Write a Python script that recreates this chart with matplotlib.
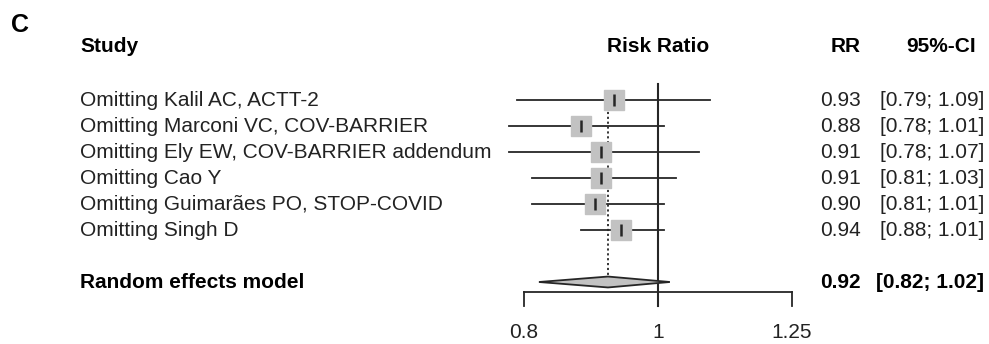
import matplotlib
matplotlib.use("Agg")
import matplotlib.pyplot as plt
import matplotlib.transforms as mtransforms
import numpy as np

plt.rcParams['font.family'] = ['Liberation Sans', 'DejaVu Sans']

# data
studies = ["Omitting Kalil AC, ACTT-2",
           "Omitting Marconi VC, COV-BARRIER",
           "Omitting Ely EW, COV-BARRIER addendum",
           "Omitting Cao Y",
           "Omitting Guimarães PO, STOP-COVID",
           "Omitting Singh D"]
rr = [0.93, 0.88, 0.91, 0.91, 0.90, 0.94]
lower = [0.79, 0.78, 0.78, 0.81, 0.81, 0.88]
upper = [1.09, 1.01, 1.07, 1.03, 1.01, 1.01]
pooled_label = "Random effects model"
pooled = 0.92
pooled_lo = 0.82
pooled_hi = 1.02
ticks = [0.8, 1, 1.25]
tick_labels = ["0.8", "1", "1.25"]

W, H = 989, 344
fig = plt.figure(figsize=(W / 100, H / 100), dpi=100)
ax = fig.add_axes([0, 0, 1, 1])
ax.set_xscale('log')
# pixel mapping: x=1 at 658px, 600 px per ln unit; row k at 100+26k px
ax.set_xlim(np.exp(-658 / 600), np.exp((W - 658) / 600))
ax.set_ylim((H - 100) / 26, -100 / 26)
ax.axis('off')

tr = mtransforms.blended_transform_factory(fig.transFigure, ax.transData)
def px(x):
    return x / W

dark = '#262626'
rows = np.arange(len(studies))
pool_row = 7

# reference lines
ax.plot([1, 1], [-0.6, 7.92], color=dark, lw=1.5)
ax.plot([pooled, pooled], [0.25, pool_row - 0.2], color=dark, lw=1.3, ls=(0, (1.2, 1.5)))

# CI lines, squares, estimates
for i in rows:
    ax.plot([lower[i], upper[i]], [i, i], color=dark, lw=1.3, zorder=2)
    ax.plot(rr[i], i, marker='s', ms=14.5, color='#c2c2c2', mec='#c2c2c2', zorder=3)
    ax.plot(rr[i], i, marker='|', ms=8, mew=1.8, color=dark, zorder=4)

# diamond
h = 0.21
ax.fill([pooled_lo, pooled, pooled_hi, pooled], [pool_row, pool_row - h, pool_row, pool_row + h],
        facecolor='#c2c2c2', edgecolor=dark, lw=1.3, zorder=3)

# x axis
ax.plot([ticks[0], ticks[-1]], [7.385, 7.385], color=dark, lw=1.3)
for t, lab in zip(ticks, tick_labels):
    ax.plot([t, t], [7.385, 7.92], color=dark, lw=1.3)
    ax.text(t, 8.96, lab, ha='center', va='center', fontsize=15, color='#222222')

# headers
fs = 15
hdr = -2.04
fig.text(px(11), 1 - 25 / H, "C", fontsize=18, fontweight='bold', va='center', ha='left')
ax.text(px(80), hdr, "Study", transform=tr, fontsize=fs, fontweight='bold', va='center')
ax.text(px(658), hdr, "Risk Ratio", transform=tr, fontsize=fs, fontweight='bold', va='center', ha='center')
ax.text(px(861), hdr, "RR", transform=tr, fontsize=fs, fontweight='bold', va='center', ha='right')
ax.text(px(976), hdr, "95%-CI", transform=tr, fontsize=fs, fontweight='bold', va='center', ha='right')

for i in rows:
    ax.text(px(80), i, studies[i], transform=tr, fontsize=fs, va='center', color='#222222')
    ax.text(px(861), i, f"{rr[i]:.2f}", transform=tr, fontsize=fs, va='center', ha='right', color='#222222')
    ax.text(px(984), i, f"[{lower[i]:.2f}; {upper[i]:.2f}]", transform=tr, fontsize=fs,
            va='center', ha='right', color='#222222')

ax.text(px(80), pool_row, pooled_label, transform=tr, fontsize=fs, fontweight='bold', va='center')
ax.text(px(861), pool_row, f"{pooled:.2f}", transform=tr, fontsize=fs, fontweight='bold', va='center', ha='right')
ax.text(px(984), pool_row, f"[{pooled_lo:.2f}; {pooled_hi:.2f}]", transform=tr, fontsize=fs,
        fontweight='bold', va='center', ha='right')

fig.savefig("out.png", dpi=100)
